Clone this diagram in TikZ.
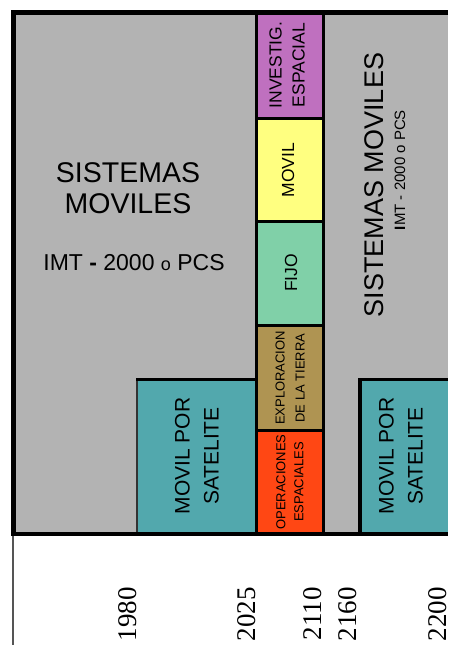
\documentclass[tikz,border=0pt]{standalone}
\usepackage{fontspec}
\setmainfont{Liberation Sans}
\newfontfamily\yearfont{Liberation Serif}
\definecolor{bggray}{HTML}{B3B3B3}
\definecolor{tealc}{HTML}{52A8AD}
\definecolor{purplec}{HTML}{BF70BF}
\definecolor{yellowc}{HTML}{FFFF80}
\definecolor{greenc}{HTML}{80D0A8}
\definecolor{brownc}{HTML}{AF9452}
\definecolor{orangec}{HTML}{FF4714}
\definecolor{linegray}{HTML}{555555}
\tikzset{
  border/.style={line width=3pt, black},
  lbl/.style={align=center, inner sep=0pt, text=black},
  vlbl/.style={lbl, rotate=90},
  yearlbl/.style={inner sep=0pt, rotate=90, anchor=east, font=\yearfont\fontsize{27}{27}\selectfont}
}
\begin{document}
\begin{tikzpicture}[x=1pt,y=-1pt]
\useasboundingbox (0,0) rectangle (448,645);
\fill[white] (0,0) rectangle (448,645);
% background
\fill[bggray] (13,13) rectangle (448,534);
% column cells
\fill[purplec] (256.5,13) rectangle (323.5,118.5);
\fill[yellowc] (256.5,118.5) rectangle (323.5,221.5);
\fill[greenc] (256.5,221.5) rectangle (323.5,325.5);
\fill[brownc] (256.5,325.5) rectangle (323.5,430.5);
\fill[orangec] (256.5,430.5) rectangle (323.5,534);
% teal boxes
\fill[tealc] (137,379.5) rectangle (256.5,534);
\fill[tealc] (360,379.5) rectangle (448,534);
% borders
\draw[border] (256.5,13) -- (256.5,534);
\draw[border] (323.5,13) -- (323.5,534);
\draw[border] (256.5,118.5) -- (323.5,118.5);
\draw[border] (256.5,221.5) -- (323.5,221.5);
\draw[border] (256.5,325.5) -- (323.5,325.5);
\draw[border] (256.5,430.5) -- (323.5,430.5);
\draw[line width=2pt, black!80] (137,379.5) -- (137,534);
\draw[border] (136,379.5) -- (256.5,379.5);
\draw[line width=4pt, black] (360,534) -- (360,379.5);
\draw[border] (358,379.5) -- (448,379.5);
% frame
\draw[line width=2pt, linegray] (12.5,534) -- (12.5,645);
\draw[line width=5pt, black] (448,12.5) -- (13.5,12.5) -- (13.5,534);
\draw[line width=4pt, black] (11,534) -- (448,534);
% left texts
\node[lbl, font=\fontsize{28.5}{31}\selectfont] (sm1) at (128,188) {SISTEMAS\\MOVILES};
\node[lbl, font=\fontsize{23}{26}\selectfont] (imt1) at (134,262.5) {IMT \textbf{-} 2000 {\fontsize{18}{18}\selectfont o} PCS};
% column texts
\node[vlbl, font=\fontsize{17.5}{23}\selectfont] (inv) at (287,65) {INVESTIG.\\ESPACIAL};
\node[vlbl, font=\fontsize{17.5}{23}\selectfont] (mov) at (288,170) {MOVIL};
\node[vlbl, font=\fontsize{17.5}{23}\selectfont] (fijo) at (291,273) {FIJO};
\node[vlbl, font=\fontsize{13}{20}\selectfont] (expl) at (290,378) {EXPLORACION\\DE LA TIERRA};
\node[vlbl, font=\fontsize{13}{18}\selectfont] (oper) at (290,482) {OPERACIONES\\ESPACIALES};
% satellite boxes
\node[vlbl, font=\fontsize{21}{29}\selectfont] (sat1) at (197,456) {MOVIL POR\\SATELITE};
\node[vlbl, font=\fontsize{21}{29}\selectfont] (sat2) at (401,456) {MOVIL POR\\SATELITE};
% right texts
\node[vlbl, font=\fontsize{27}{27}\selectfont] (sm2) at (374,185) {SISTEMAS MOVILES};
\node[vlbl, font=\fontsize{15}{15}\selectfont] (imt2) at (400,170) {\textbf{I}MT - 2000 o PCS};
% years
\node[yearlbl] (y1) at (128,587) {1980};
\node[yearlbl] (y2) at (247,587) {2025};
\node[yearlbl] (y3) at (313,587) {2110};
\node[yearlbl] (y4) at (348,587) {2160};
\node[yearlbl] (y5) at (438,587) {2200};
\end{tikzpicture}
\end{document}
